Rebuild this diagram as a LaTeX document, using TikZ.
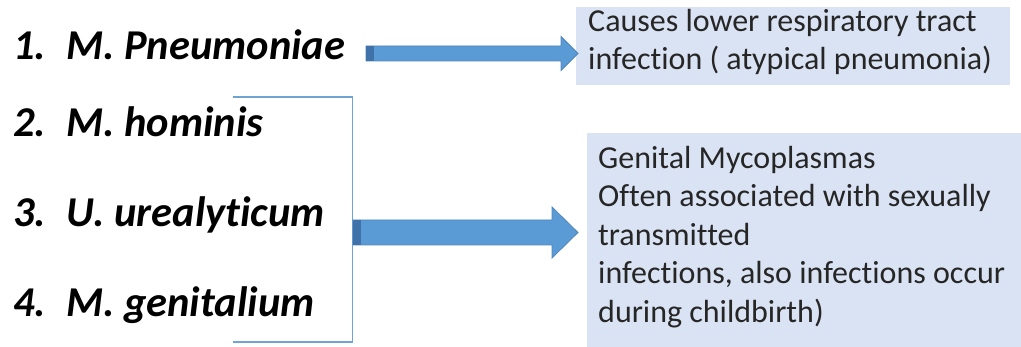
\documentclass[tikz,border=0pt]{standalone}
\usepackage{fontspec}
\setmainfont{Carlito}[Ligatures=NoCommon]
\usetikzlibrary{calc}
\definecolor{arrowblue}{HTML}{5B9BD5}
\definecolor{arrowedge}{HTML}{4F86BE}
\definecolor{arrowdark}{HTML}{3F72A8}
\definecolor{boxfill}{HTML}{DAE3F3}
\definecolor{bracketblue}{HTML}{6FA3D8}
\definecolor{boxtext}{HTML}{262626}
\newcommand{\mkblockarrow}[5]{%
  \path[fill=arrowblue, draw=arrowedge, line width=0.8pt, line join=miter]
    let \p1=(#1), \p2=(#2) in
    (\x1,\y1-#3) -- (\x2-#5,\y1-#3) -- (\x2-#5,\y1-#4) -- (\x2,\y1)
    -- (\x2-#5,\y1+#4) -- (\x2-#5,\y1+#3) -- (\x1,\y1+#3) -- cycle;
  \fill[arrowdark] let \p1=(#1) in (\x1+0.4pt,\y1-#3+0.4pt) rectangle (\x1+8pt,\y1+#3-0.4pt);
}
\begin{document}
\begin{tikzpicture}[x=1pt,y=-1pt,
  item/.style={anchor=base west, inner sep=0pt, font=\fontsize{42.5}{50}\selectfont\bfseries\itshape},
  infobox/.style={fill=boxfill, draw=none, anchor=north west, inner sep=0pt},
  infotext/.style={anchor=base west, inner sep=0pt, align=left, font=\fontsize{32}{38.5}\selectfont, text=boxtext},
  bracket/.style={draw=bracketblue, line width=1.5pt},
]
\useasboundingbox (0,0) rectangle (1021,347);

% info boxes
\node[infobox, minimum width=434pt, minimum height=78pt] (b1) at (576,7) {};
\node[infobox, minimum width=434pt, minimum height=214pt] (b2) at (587,133) {};
% (base anchor of a multi-line node = baseline of its last line)
\node[infotext] (t1) at (588,70) {Causes lower respiratory tract\\infection ( atypical pneumonia)};
\node[infotext] (t2) at (598,322.5) {Genital Mycoplasmas\\Often associated with sexually\\transmitted\\infections, also infections occur\\during childbirth)};

% items
\node[item] (m1) at (13,60) {\makebox[53pt][l]{1.}M. Pneumoniae};
\node[item] (m2) at (13,137) {\makebox[53pt][l]{2.}M. hominis};
\node[item] (m3) at (13,227) {\makebox[53pt][l]{3.}U. urealyticum};
\node[item] (m4) at (13,317) {\makebox[53pt][l]{4.}M. genitalium};

% bracket
\coordinate (brtop) at (233,97);
\coordinate (brc1) at (352.5,97);
\coordinate (brc2) at (352.5,342);
\coordinate (brbot) at (233,342);
\draw[bracket] (brtop) -- (brc1) -- (brc2) -- (brbot);

% arrows
\coordinate (a1s) at (366,53.5);
\coordinate (a1t) at (578,53.5);
\coordinate (a2s) at (353,232.5);
\coordinate (a2t) at (578,232.5);
\mkblockarrow{a1s}{a1t}{7.5pt}{17pt}{17pt}
\mkblockarrow{a2s}{a2t}{12.5pt}{25.5pt}{26pt}
\end{tikzpicture}
\end{document}
